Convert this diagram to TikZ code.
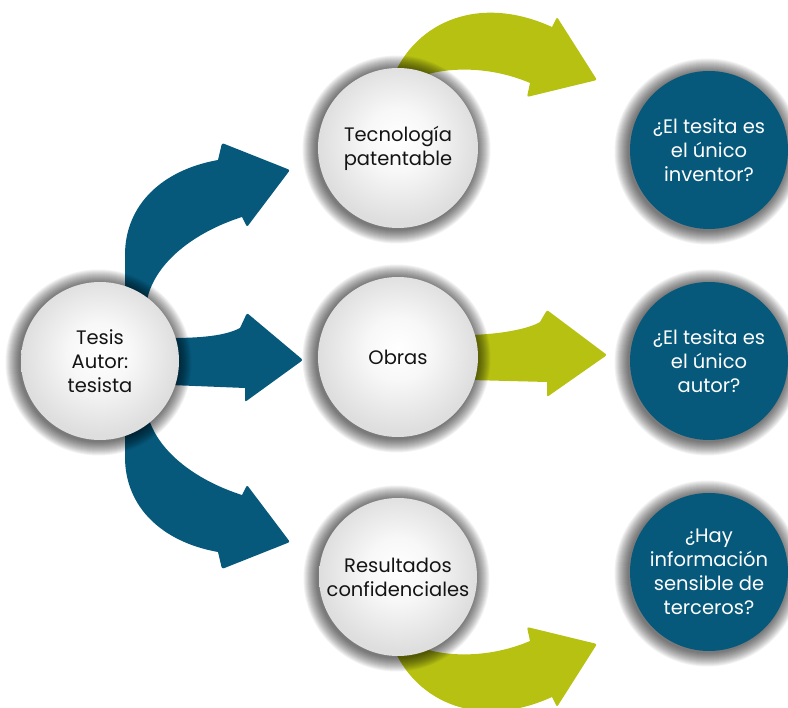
\documentclass[tikz,border=0pt]{standalone}
\usepackage{fontspec}
\setmainfont{Poppins}
\usetikzlibrary{calc}
\definecolor{tblue}{RGB}{7,89,124}
\definecolor{tgreen}{RGB}{182,193,18}
\definecolor{ttext}{RGB}{20,20,20}
\pgfdeclareradialshading{discshade}{\pgfpoint{0bp}{3bp}}{color(0bp)=(white); color(10bp)=(white!97!black); color(25bp)=(white!87!black); color(50bp)=(white!87!black)}
\newcommand\halo[2]{%
  \foreach \k in {1,...,14}{%
    \pgfmathsetmacro\rr{#2+15-\k}%
    \fill[black,opacity=0.05] ($#1+(-1.5,1.5)$) circle[radius=\rr pt];%
  }%
}
\begin{document}
\begin{tikzpicture}[x=1pt,y=-1pt,
  txt/.style={font=\fontsize{19.5}{24}\selectfont, align=center},
  lightball/.style={circle, inner sep=0pt, minimum size=#1, shading=discshade, text=ttext, txt},
  blueball/.style={circle, inner sep=0pt, minimum size=#1, fill=tblue, text=white, txt},
  bluearrow/.style={fill=tblue},
  greenarrow/.style={fill=tgreen}]
\useasboundingbox (0,0) rectangle (788,708);
\clip (0,0) rectangle (788,708);

% centres
\coordinate (ctesis) at (100,361);
\coordinate (ctec) at (398,148);
\coordinate (cobras) at (398,357);
\coordinate (cres) at (398,577);
\coordinate (cq1) at (709,150);
\coordinate (cq2) at (709,361);
\coordinate (cq3) at (709,572);

% blue arrows
\fill[bluearrow] (125,300) -- (125,255) .. controls (125,205) and (162,170) .. (218,160)
  [rounded corners=2pt] -- (222,143) -- (290,170) -- (247,227) [sharp corners] -- (242,217)
  .. controls (195,232) and (155,262) .. (147,300) -- cycle;
\fill[bluearrow] (170,338) .. controls (200,338) and (225,336) .. (240,328)
  [rounded corners=2pt] -- (247,313) -- (303,360) -- (245,402) [sharp corners] -- (245,388) -- (170,385) -- cycle;
\fill[bluearrow] (125,412) -- (125,457) .. controls (125,507) and (162,542) .. (218,552)
  [rounded corners=2pt] -- (222,569) -- (290,542) -- (247,485) [sharp corners] -- (242,495)
  .. controls (195,480) and (155,450) .. (147,412) -- cycle;

% green arrows
\fill[greenarrow] (390,100) -- (390,85) .. controls (410,25) and (475,-8) .. (552,27)
  [rounded corners=2pt] -- (557,17) -- (597,80) -- (527,97) [sharp corners] -- (530,83)
  .. controls (495,68) and (455,66) .. (425,75) -- (425,100) -- cycle;
\fill[greenarrow] (470,335) .. controls (505,334) and (530,328) .. (540,322)
  [rounded corners=2pt] -- (547,310) -- (607,355) -- (547,397) [sharp corners] -- (547,382) -- (470,380) -- cycle;
\fill[greenarrow] (390,624) -- (390,639) .. controls (410,699) and (475,732) .. (552,697)
  [rounded corners=2pt] -- (557,707) -- (597,644) -- (527,627) [sharp corners] -- (530,641)
  .. controls (495,656) and (455,658) .. (425,649) -- (425,624) -- cycle;

% halos
\halo{(ctesis)}{79}
\halo{(ctec)}{80}
\halo{(cobras)}{80}
\halo{(cres)}{79}
\halo{(cq1)}{79}
\halo{(cq2)}{79}
\halo{(cq3)}{79}

% circles
\node[lightball=158pt] (tesis) at (ctesis) {Tesis\\Autor:\\tesista};
\node[lightball=160pt] (tec) at (ctec) {Tecnología\\patentable};
\node[lightball=160pt] (obras) at (cobras) {Obras};
\node[lightball=158pt] (res) at (cres) {Resultados\\confidenciales};
\node[blueball=158pt] (q1) at (cq1) {¿El tesita es\\el único\\inventor?};
\node[blueball=158pt] (q2) at (cq2) {¿El tesita es\\el único\\autor?};
\node[blueball=158pt] (q3) at (cq3) {¿Hay\\información\\sensible de\\terceros?};
\end{tikzpicture}
\end{document}
